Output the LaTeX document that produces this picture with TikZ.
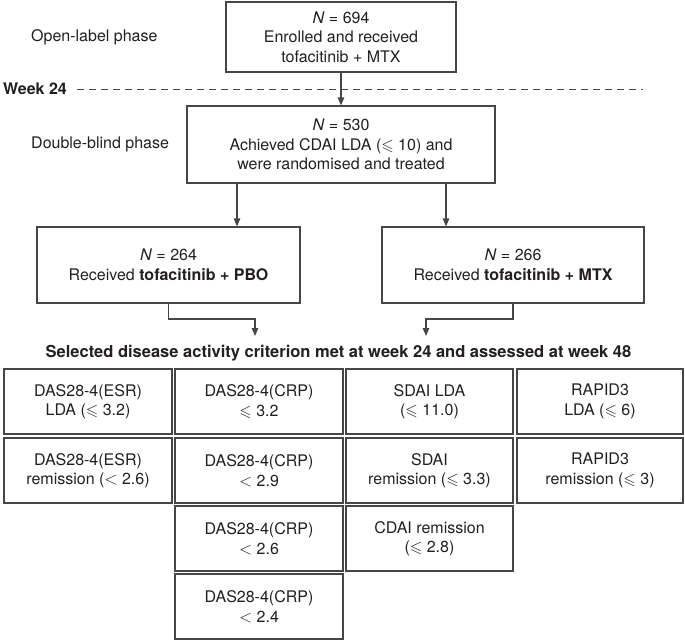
\documentclass[tikz,border=0pt]{standalone}
\usepackage{amssymb}
\usepackage{fontspec}
\setmainfont{TeX Gyre Heros}
\usetikzlibrary{arrows.meta}
\definecolor{boxc}{RGB}{70,70,70}
\definecolor{txt}{RGB}{35,31,32}
\begin{document}
\begin{tikzpicture}[
  x=1pt, y=-1pt,
  box/.style={draw=boxc, line width=1.1pt, align=center, inner sep=0pt, text=txt, font=\fontsize{16}{19.5}\selectfont},
  cell/.style={box, minimum width=168pt, minimum height=65pt},
  lbl/.style={anchor=west, inner sep=0pt, text=txt, font=\fontsize{16}{19.5}\selectfont},
  arr/.style={draw=boxc, line width=1.1pt, -{Triangle[length=8pt,width=6.5pt]}},
]
\useasboundingbox (0,0) rectangle (685,642);

% labels
\node[lbl] (open) at (31,37) {Open-label phase};
\node[lbl] (dbl) at (31,144) {Double-blind phase};
\node[lbl, font=\fontsize{16}{19.5}\selectfont\bfseries] (week) at (3,89) {Week 24};
\coordinate (dashend) at (643,89);
\draw[boxc, line width=1pt, dash pattern=on 7pt off 5pt] ([xshift=10pt]week.east) -- (dashend);

% top boxes
\node[box, minimum width=230pt, minimum height=70pt] (top) at (341,37)
  {\textit{N} = 694\\Enrolled and received\\tofacitinib + MTX};
\node[box, minimum width=308pt, minimum height=77pt] (b2) at (341,144.5)
  {\textit{N} = 530\\Achieved CDAI LDA ($\leqslant$ 10) and\\were randomised and treated};
\draw[arr] (top.south) -- (b2.north);

\node[box, minimum width=263pt, minimum height=76pt] (left) at (168.5,265)
  {\textit{N} = 264\\Received \textbf{tofacitinib + PBO}};
\node[box, minimum width=262pt, minimum height=76pt] (right) at (513,265)
  {\textit{N} = 266\\Received \textbf{tofacitinib + MTX}};

\coordinate (lx) at (237,0);
\coordinate (rx) at (446,0);
\draw[arr] (lx |- b2.south) -- (lx |- left.north);
\draw[arr] (rx |- b2.south) -- (rx |- right.north);

\coordinate (my) at (0,319);
\coordinate (tl) at (255,336);
\coordinate (tr) at (426,336);
\draw[arr] (left.south) -- (left.south |- my) -| (tl);
\draw[arr] (right.south) -- (right.south |- my) -| (tr);

\node[inner sep=0pt, text=txt, font=\fontsize{16.5}{19.5}\selectfont\bfseries] (title) at (338.5,353)
  {Selected disease activity criterion met at week 24 and assessed at week 48};

% grid
\node[cell] (c11) at (88,401.5) {DAS28-4(ESR)\\LDA ($\leqslant$ 3.2)};
\node[cell] (c12) at (259,401.5) {DAS28-4(CRP)\\$\leqslant$ 3.2};
\node[cell, minimum width=167pt] (c13) at (429.5,401.5) {SDAI LDA\\($\leqslant$ 11.0)};
\node[cell, minimum width=166pt] (c14) at (600,401.5) {RAPID3\\LDA ($\leqslant$ 6)};

\node[cell] (c21) at (88,470.5) {DAS28-4(ESR)\\remission ($<$ 2.6)};
\node[cell] (c22) at (259,470.5) {DAS28-4(CRP)\\$<$ 2.9};
\node[cell, minimum width=167pt] (c23) at (429.5,470.5) {SDAI\\remission ($\leqslant$ 3.3)};
\node[cell, minimum width=166pt] (c24) at (600,470.5) {RAPID3\\remission ($\leqslant$ 3)};

\node[cell] (c32) at (259,538.5) {DAS28-4(CRP)\\$<$ 2.6};
\node[cell, minimum width=167pt] (c33) at (429.5,538.5) {CDAI remission\\($\leqslant$ 2.8)};

\node[cell] (c42) at (259,606.5) {DAS28-4(CRP)\\$<$ 2.4};
\end{tikzpicture}
\end{document}
